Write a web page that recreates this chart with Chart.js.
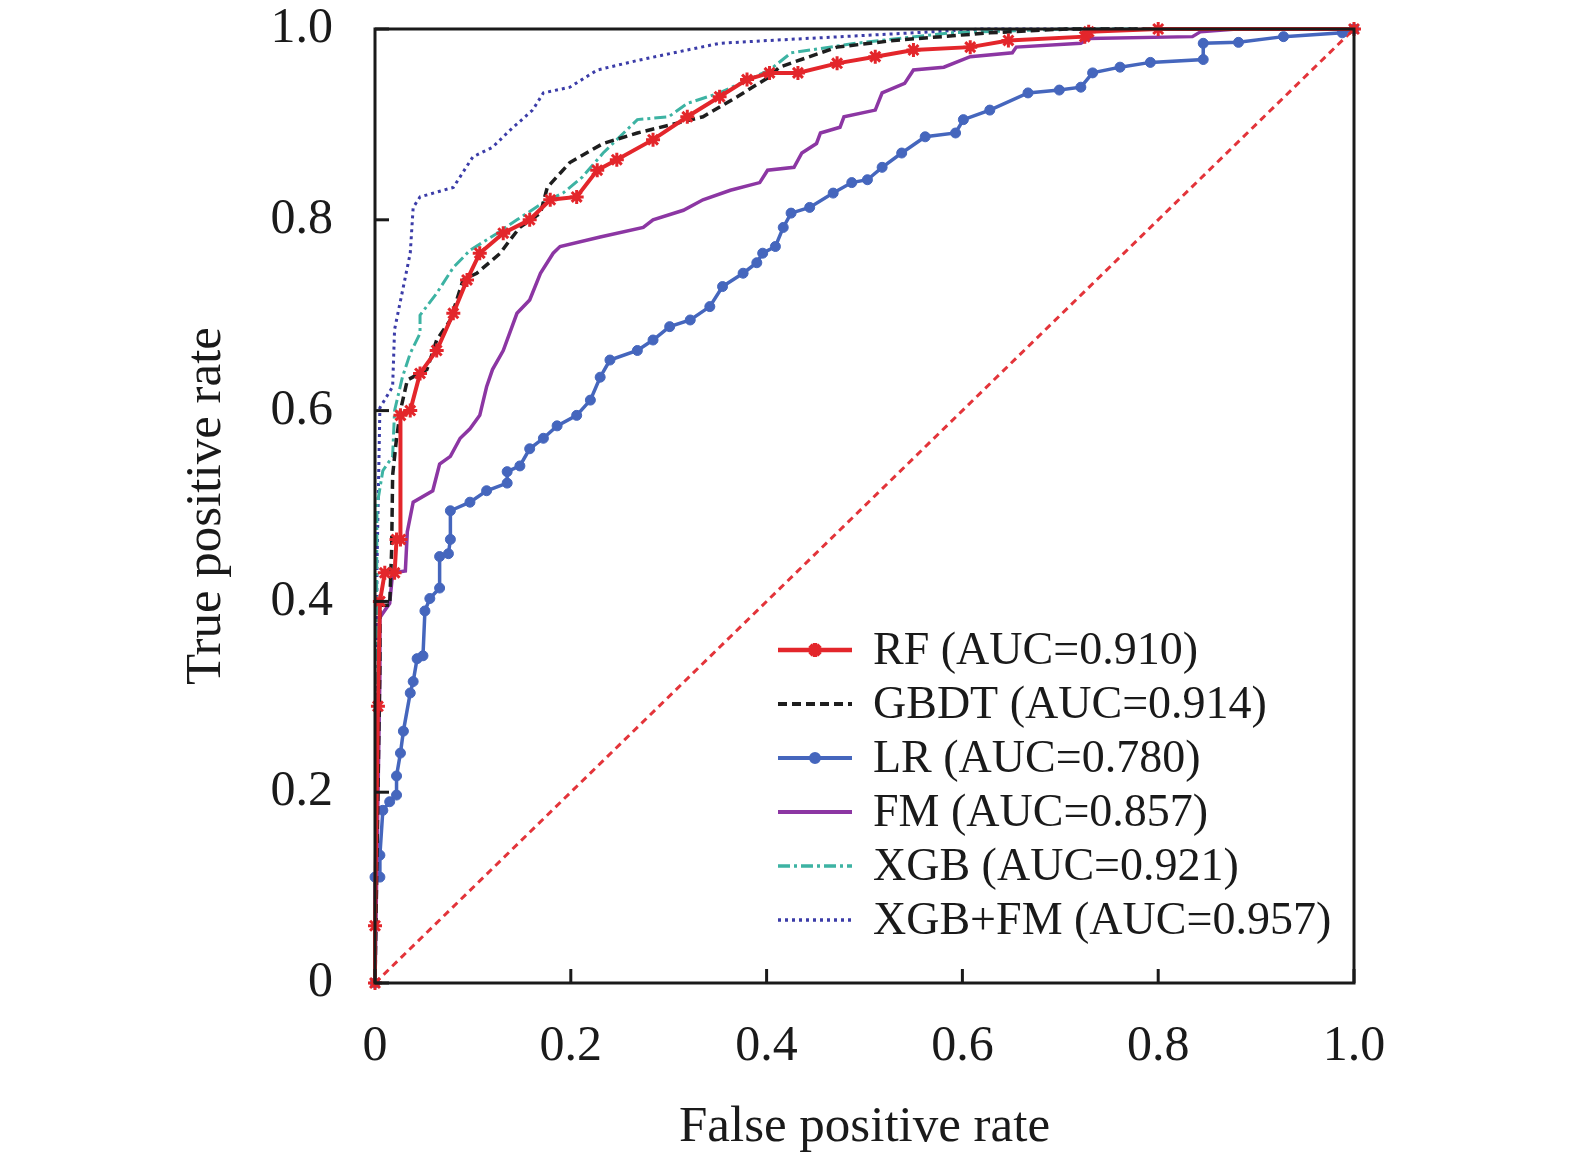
<!DOCTYPE html>
<html>
<head>
<meta charset="utf-8">
<script src="https://cdn.jsdelivr.net/npm/chart.js@4.4.1/dist/chart.umd.min.js"></script>
<style>
  html, body { margin: 0; padding: 0; background: #fff; }
  #wrap { width: 1575px; height: 1163px; }
</style>
</head>
<body>
<div id="wrap"><canvas id="roc" width="1575" height="1163"></canvas></div>
<script>
// ROC points (false positive rate / true positive rate)
const rfFpr = [0, 0, 0.003, 0.005, 0.010, 0.020, 0.022, 0.026, 0.026, 0.036, 0.046, 0.063, 0.080, 0.094, 0.107, 0.131, 0.158, 0.179, 0.206, 0.227, 0.247, 0.284, 0.319, 0.352, 0.380, 0.403, 0.432, 0.472, 0.511, 0.550, 0.608, 0.647, 0.725, 0.729, 0.80, 1.0];
const rfTpr = [0, 0.06, 0.29, 0.40, 0.43, 0.43, 0.465, 0.465, 0.595, 0.60, 0.639, 0.663, 0.702, 0.737, 0.765, 0.786, 0.80, 0.821, 0.824, 0.852, 0.863, 0.884, 0.908, 0.929, 0.947, 0.954, 0.954, 0.964, 0.971, 0.978, 0.981, 0.988, 0.992, 0.997, 1.0, 1.0];

const gbdtFpr = [0, 0.005, 0.005, 0.015, 0.017, 0.018, 0.022, 0.026, 0.033, 0.053, 0.063, 0.077, 0.090, 0.104, 0.128, 0.138, 0.148, 0.169, 0.176, 0.199, 0.233, 0.268, 0.335, 0.370, 0.403, 0.413, 0.472, 0.530, 0.628, 0.706, 1.0];
const gbdtTpr = [0, 0.335, 0.396, 0.396, 0.454, 0.532, 0.571, 0.60, 0.632, 0.643, 0.674, 0.695, 0.737, 0.744, 0.765, 0.779, 0.792, 0.807, 0.834, 0.86, 0.88, 0.891, 0.908, 0.929, 0.95, 0.96, 0.981, 0.988, 0.996, 1.0, 1.0];

const lrFpr = [0, 0, 0.005, 0.005, 0.008, 0.015, 0.022, 0.022, 0.026, 0.029, 0.036, 0.039, 0.043, 0.049, 0.051, 0.056, 0.066, 0.066, 0.075, 0.077, 0.077, 0.097, 0.114, 0.135, 0.135, 0.148, 0.158, 0.172, 0.186, 0.206, 0.220, 0.230, 0.240, 0.268, 0.284, 0.301, 0.322, 0.342, 0.355, 0.376, 0.390, 0.396, 0.409, 0.417, 0.425, 0.444, 0.468, 0.487, 0.503, 0.518, 0.538, 0.562, 0.593, 0.601, 0.628, 0.667, 0.699, 0.721, 0.733, 0.761, 0.792, 0.846, 0.846, 0.882, 0.928, 0.988, 1.0];
const lrTpr = [0, 0.111, 0.111, 0.134, 0.181, 0.19, 0.197, 0.217, 0.241, 0.264, 0.304, 0.316, 0.34, 0.343, 0.39, 0.403, 0.414, 0.447, 0.45, 0.465, 0.495, 0.504, 0.516, 0.524, 0.536, 0.542, 0.56, 0.571, 0.584, 0.595, 0.611, 0.635, 0.653, 0.663, 0.674, 0.688, 0.695, 0.709, 0.73, 0.744, 0.755, 0.765, 0.772, 0.792, 0.807, 0.813, 0.828, 0.839, 0.842, 0.855, 0.87, 0.887, 0.891, 0.905, 0.915, 0.933, 0.936, 0.939, 0.954, 0.96, 0.965, 0.968, 0.985, 0.986, 0.992, 0.996, 1.0];

const fmFpr = [0, 0.005, 0.005, 0.015, 0.018, 0.031, 0.033, 0.039, 0.059, 0.066, 0.077, 0.087, 0.097, 0.107, 0.114, 0.120, 0.131, 0.145, 0.158, 0.169, 0.182, 0.189, 0.230, 0.274, 0.284, 0.315, 0.335, 0.363, 0.393, 0.401, 0.428, 0.436, 0.451, 0.455, 0.475, 0.479, 0.511, 0.518, 0.541, 0.550, 0.581, 0.608, 0.651, 0.655, 0.721, 0.729, 0.835, 0.843, 0.88, 1.0];
const fmTpr = [0, 0.324, 0.383, 0.398, 0.43, 0.432, 0.473, 0.504, 0.516, 0.544, 0.552, 0.571, 0.581, 0.595, 0.625, 0.643, 0.663, 0.702, 0.716, 0.744, 0.765, 0.772, 0.782, 0.792, 0.80, 0.81, 0.821, 0.831, 0.839, 0.852, 0.855, 0.87, 0.88, 0.891, 0.897, 0.908, 0.915, 0.933, 0.943, 0.957, 0.96, 0.971, 0.975, 0.981, 0.985, 0.99, 0.992, 0.997, 1.0, 1.0];

const xgbFpr = [0, 0.002, 0.008, 0.018, 0.020, 0.028, 0.036, 0.046, 0.046, 0.063, 0.080, 0.097, 0.125, 0.145, 0.172, 0.192, 0.212, 0.233, 0.268, 0.300, 0.319, 0.352, 0.403, 0.425, 0.491, 0.588, 0.706, 1.0];
const xgbTpr = [0, 0.50, 0.537, 0.552, 0.60, 0.635, 0.66, 0.681, 0.70, 0.723, 0.75, 0.768, 0.786, 0.80, 0.818, 0.828, 0.845, 0.87, 0.905, 0.908, 0.922, 0.933, 0.957, 0.975, 0.985, 0.996, 1.0, 1.0];

const xgbFmFpr = [0, 0.002, 0.005, 0.018, 0.020, 0.029, 0.036, 0.039, 0.046, 0.080, 0.100, 0.120, 0.138, 0.161, 0.172, 0.199, 0.227, 0.268, 0.319, 0.352, 0.403, 0.550, 0.62, 1.0];
const xgbFmTpr = [0, 0.434, 0.603, 0.625, 0.685, 0.73, 0.765, 0.813, 0.824, 0.834, 0.866, 0.876, 0.894, 0.915, 0.933, 0.939, 0.957, 0.967, 0.978, 0.985, 0.988, 0.996, 1.0, 1.0];

const chanceFpr = [0, 1];
const chanceTpr = [0, 1];

const modelNames = ['RF', 'GBDT', 'LR', 'FM', 'XGB', 'XGB+FM'];
const aucValues = ['0.910', '0.914', '0.780', '0.857', '0.921', '0.957'];
const axisTicks = [0, 0.2, 0.4, 0.6, 0.8, 1.0];

const SERIF = '"Liberation Serif", "Times New Roman", serif';

function pts(xs, ys) {
	return xs.map((x, i) => ({x: x, y: ys[i]}));
}

// line look for each model (also used for the legend samples)
const styles = {
	'RF': {color: '#e3262b', width: 4, dash: [], marker: 'star', radius: 7},
	'GBDT': {color: '#1e1e1e', width: 3.5, dash: [9, 5], marker: false},
	'LR': {color: '#4566bd', width: 3.5, dash: [], marker: 'circle', radius: 5},
	'FM': {color: '#8c36a3', width: 3.5, dash: [], marker: false},
	'XGB': {color: '#3db3a3', width: 3, dash: [12, 4, 3, 4], marker: false},
	'XGB+FM': {color: '#3b3ca8', width: 3, dash: [3, 4], marker: false},
};

function dataset(name, xs, ys) {
	const s = styles[name];
	return {
		label: name,
		data: pts(xs, ys),
		borderColor: s.color,
		backgroundColor: s.color,
		borderWidth: s.width,
		borderDash: s.dash,
		pointStyle: s.marker || 'circle',
		pointRadius: s.marker ? s.radius : 0,
		pointBorderWidth: s.marker === 'star' ? 3 : 1,
		pointBorderColor: s.color,
		pointBackgroundColor: s.color,
		tension: 0,
		clip: false,
	};
}

const frameAndLegend = {
	id: 'frameAndLegend',
	afterDraw(chart) {
		const {ctx, chartArea: a, scales} = chart;
		ctx.save();
		// plot frame
		ctx.strokeStyle = '#1a1a1a';
		ctx.lineWidth = 3;
		ctx.setLineDash([]);
		ctx.strokeRect(a.left, a.top, a.right - a.left, a.bottom - a.top);
		// inward tick marks on left and bottom axes
		axisTicks.forEach(v => {
			const px = scales.x.getPixelForValue(v);
			ctx.beginPath();
			ctx.moveTo(px, a.bottom);
			ctx.lineTo(px, a.bottom - 14);
			ctx.stroke();
			const py = scales.y.getPixelForValue(v);
			ctx.beginPath();
			ctx.moveTo(a.left, py);
			ctx.lineTo(a.left + 14, py);
			ctx.stroke();
		});

		// legend in the lower right of the plot
		const x0 = a.left + 403;
		const x1 = x0 + 74;
		const tx = a.left + 498;
		let ry = a.top + 621;
		ctx.font = '46px ' + SERIF;
		ctx.textBaseline = 'middle';
		ctx.textAlign = 'left';
		modelNames.forEach((name, i) => {
			const s = styles[name];
			ctx.strokeStyle = s.color;
			ctx.lineWidth = s.width + 0.5;
			ctx.setLineDash(s.dash);
			ctx.beginPath();
			ctx.moveTo(x0, ry);
			ctx.lineTo(x1, ry);
			ctx.stroke();
			ctx.setLineDash([]);
			if (s.marker) {
				ctx.fillStyle = s.color;
				Chart.helpers.drawPoint(ctx, {
					pointStyle: s.marker,
					radius: s.marker === 'star' ? 7 : 4,
					borderWidth: s.marker === 'star' ? 2.5 : 1,
					rotation: 0,
				}, (x0 + x1) / 2, ry);
			}
			ctx.fillStyle = '#1a1a1a';
			ctx.fillText(name + ' (AUC=' + aucValues[i] + ')', tx, ry + 2);
			ry += 54;
		});
		ctx.restore();
	}
};

const tickFont = {family: SERIF, size: 50};
const titleFont = {family: SERIF, size: 51, lineHeight: 1.2};

new Chart(document.getElementById('roc'), {
	type: 'line',
	data: {
		datasets: [
			dataset('RF', rfFpr, rfTpr),
			dataset('GBDT', gbdtFpr, gbdtTpr),
			dataset('XGB', xgbFpr, xgbTpr),
			dataset('XGB+FM', xgbFmFpr, xgbFmTpr),
			dataset('FM', fmFpr, fmTpr),
			dataset('LR', lrFpr, lrTpr),
			{
				label: 'chance',
				data: pts(chanceFpr, chanceTpr),
				borderColor: '#e3343a',
				borderWidth: 3,
				borderDash: [7, 5],
				pointRadius: 0,
				clip: false,
			},
		]
	},
	options: {
		responsive: false,
		animation: false,
		devicePixelRatio: 1,
		layout: {
			padding: {left: 170, top: 29, right: 221, bottom: 0}
		},
		plugins: {
			legend: {display: false},
			tooltip: {enabled: false},
		},
		scales: {
			x: {
				type: 'linear',
				min: 0,
				max: 1,
				afterBuildTicks: s => { s.ticks = axisTicks.map(v => ({value: v})); },
				afterFit: s => {
					s.height = 180;
					s.paddingLeft = 0;
					s.paddingRight = 0;
				},
				grid: {display: false, drawTicks: false},
				border: {display: false},
				ticks: {
					padding: 34,
					color: '#1a1a1a',
					font: tickFont,
					maxRotation: 0,
					callback: v => v === 0 ? '0' : v.toFixed(1),
				},
				title: {
					display: true,
					text: 'False positive rate',
					color: '#1a1a1a',
					font: titleFont,
					padding: {top: 0, bottom: 5},
				},
			},
			y: {
				type: 'linear',
				min: 0,
				max: 1,
				afterBuildTicks: s => { s.ticks = axisTicks.map(v => ({value: v})); },
				afterFit: s => {
					s.width = 205;
					s.paddingTop = 0;
					s.paddingBottom = 0;
				},
				grid: {display: false, drawTicks: false},
				border: {display: false},
				ticks: {
					padding: 42,
					color: '#1a1a1a',
					font: tickFont,
					callback: v => v === 0 ? '0' : v.toFixed(1),
				},
				title: {
					display: true,
					text: 'True positive rate',
					color: '#1a1a1a',
					font: titleFont,
					padding: {top: 6, bottom: 0},
				},
			},
		},
	},
	plugins: [frameAndLegend],
});
</script>
</body>
</html>
